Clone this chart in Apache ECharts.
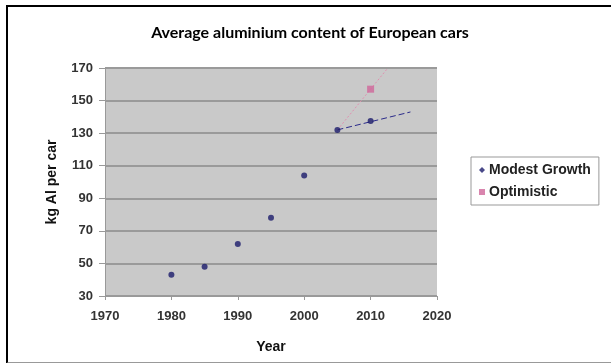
<!DOCTYPE html>
<html><head><meta charset="utf-8">
<script src="https://cdn.jsdelivr.net/npm/echarts@6/dist/echarts.min.js"></script>
<style>
html,body{margin:0;padding:0;background:#fff;}
#frame{position:absolute;left:6px;top:5px;width:620px;height:355px;border-top:2px solid #000;border-left:2px solid #000;border-bottom:2px solid #999;}
#c{position:absolute;left:0;top:0;width:611px;height:363px;}
</style></head>
<body>
<div id="frame"></div>
<div id="c"></div>
<script>
const modestYears = [1980, 1985, 1990, 1995, 2000, 2005, 2010];
const modestValues = [43, 48, 62, 78, 104, 132, 137.5];
const optimisticYears = [2010];
const optimisticValues = [157];
const modestTrendYears = [2005, 2016];
const modestTrendValues = [132, 143];
const optimisticTrendYears = [2005, 2012.6];
const optimisticTrendValues = [132, 170];
const yTicks = [30, 50, 70, 90, 110, 130, 150, 170];
const xTicks = [1970, 1980, 1990, 2000, 2010, 2020];

const zip = (a, b) => a.map((x, i) => [x, b[i]]);
const chart = echarts.init(document.getElementById('c'), null, {renderer: 'canvas'});
chart.setOption({
  animation: false,
  title: {
    text: 'Average aluminium content of European cars',
    left: 305, textAlign: 'center', top: 20,
    textStyle: {fontFamily: 'Lato', fontWeight: 'bold', fontSize: 16, color: '#000'}
  },
  grid: {left: 105, right: 174, top: 68, bottom: 67, show: true, backgroundColor: '#c9c9c9', borderWidth: 0},
  legend: {
    orient: 'vertical', left: 471, top: 157,
    data: [{name: 'Modest Growth', icon: 'diamond'}, {name: 'Optimistic', icon: 'rect'}],
    itemWidth: 6, itemHeight: 6, itemGap: 8,
    padding: [6, 8, 6, 8],
    borderColor: '#999', borderWidth: 1,
    textStyle: {fontFamily: 'Liberation Sans', fontWeight: 'bold', fontSize: 14, color: '#222', padding: [0, 0, 0, -1]}
  },
  xAxis: {
    type: 'value', min: 1970, max: 2020, interval: 10,
    name: 'Year', nameLocation: 'middle', nameGap: 44,
    nameTextStyle: {fontFamily: 'Liberation Sans', fontWeight: 'bold', fontSize: 14, color: '#111'},
    axisLine: {lineStyle: {color: '#999', width: 1}},
    axisTick: {show: true, length: 4, lineStyle: {color: '#999'}},
    axisLabel: {fontFamily: 'Liberation Sans', fontWeight: 'bold', fontSize: 13, color: '#333', margin: 14,
      formatter: v => xTicks.includes(v) ? String(v) : ''},
    splitLine: {show: false}
  },
  yAxis: {
    type: 'value', min: 30, max: 170, interval: 20,
    name: 'kg Al per car', nameLocation: 'middle', nameGap: 46, nameRotate: 90,
    nameTextStyle: {fontFamily: 'Liberation Sans', fontWeight: 'bold', fontSize: 14, color: '#111'},
    axisLine: {show: true, lineStyle: {color: '#999', width: 1}},
    axisTick: {show: true, length: 6, lineStyle: {color: '#999'}},
    axisLabel: {fontFamily: 'Liberation Sans', fontWeight: 'bold', fontSize: 13, color: '#333', margin: 12,
      formatter: v => yTicks.includes(v) ? String(v) : ''},
    splitLine: {show: true, lineStyle: {color: '#9a9a9a', width: 2}}
  },
  series: [
    {name: 'Modest Growth', type: 'scatter', data: zip(modestYears, modestValues),
      symbol: 'circle', symbolSize: 6, itemStyle: {color: '#1c1c6c'}, z: 5},
    {name: 'Optimistic', type: 'scatter', data: zip(optimisticYears, optimisticValues),
      symbol: 'rect', symbolSize: 7, itemStyle: {color: '#d0679a'}, z: 5},
    {name: 'modestTrend', type: 'line', data: zip(modestTrendYears, modestTrendValues),
      symbol: 'none', lineStyle: {color: '#2a2a8a', width: 1, type: [6, 3]}, z: 3},
    {name: 'optTrend', type: 'line', data: zip(optimisticTrendYears, optimisticTrendValues),
      symbol: 'none', lineStyle: {color: '#e090b0', width: 1, type: [2, 2]}, z: 3}
  ]
});
</script>
</body></html>
